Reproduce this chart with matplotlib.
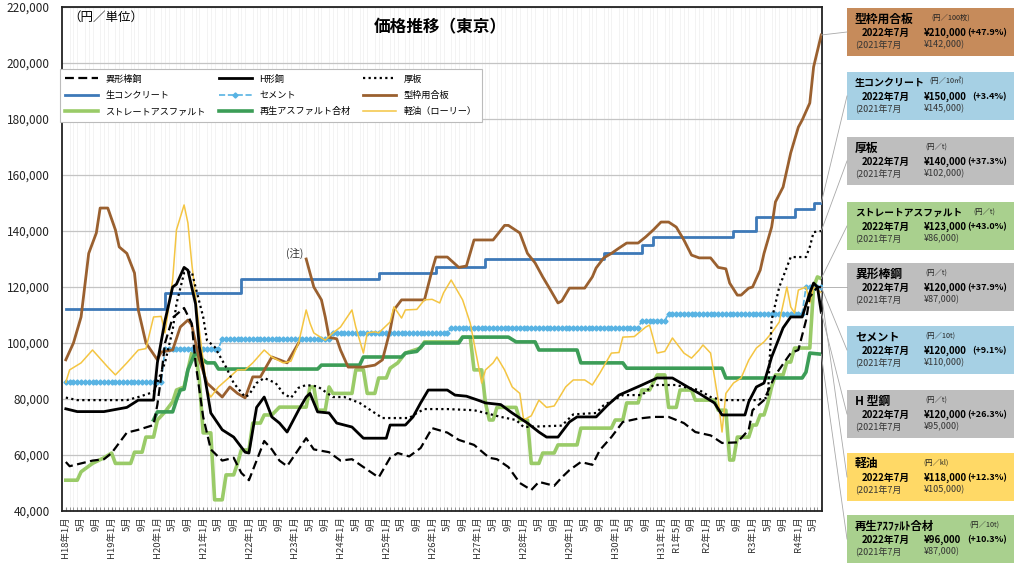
import numpy as np
import matplotlib
matplotlib.use('Agg')
import matplotlib.pyplot as plt
from matplotlib.lines import Line2D
from matplotlib.patches import Rectangle
from matplotlib.ticker import FuncFormatter

plt.rcParams['font.family'] = ['Noto Sans CJK JP', 'DejaVu Sans']

# x = 月番号 (0 = H18年1月, 198 = R4年7月)、値は千円
ikei = [(0, 57.5), (1, 56), (7, 58), (10, 58.5), (12, 60.7), (16, 68), (19, 69), (23, 70.7),
        (24, 78), (25, 88), (26, 100), (28, 109), (31, 112.5), (33, 107), (34, 93), (36, 73.6),
        (38, 62), (41, 58), (44, 59), (46, 53.6), (48, 51), (50, 58), (52, 65), (54, 62),
        (56, 58), (58, 56), (61, 62), (63, 66), (65, 62), (69, 61), (72, 58), (75, 58.5),
        (78, 55.7), (82, 52), (85, 59), (87, 60.7), (90, 59.5), (93, 62.5), (96, 69.6),
        (100, 68), (103, 65.4), (107, 63.6), (111, 59), (113, 58.5), (116, 55.7), (119, 50),
        (122, 47.5), (124, 50.4), (128, 49), (130, 52), (132, 54.6), (135, 57.5), (138, 56.5),
        (140, 61.8), (143, 66.4), (146, 71.8), (150, 73), (154, 73.6), (158, 73.6), (162, 71.4),
        (165, 68.2), (169, 67), (172, 64.3), (176, 64.5), (179, 69), (180, 76), (183, 79.6),
        (185, 85.7), (186, 88.6), (190, 96.4), (192, 97.5), (194, 108), (195, 116.4),
        (197, 120), (198, 120)]

hkou = [(0, 76.5), (3, 75.5), (10, 75.5), (16, 77), (19, 79.6), (23, 79.6), (24, 93), (26, 108),
        (28, 120), (29, 121), (31, 127), (32, 126), (34, 114), (35, 98.6), (37, 83.2), (38, 75),
        (41, 69), (44, 66.4), (47, 61), (48, 60.7), (50, 77), (52, 80.7), (54, 73.6), (56, 71.4),
        (58, 68.2), (61, 76), (63, 80.7), (64, 82), (66, 75.4), (69, 75), (71, 71.4), (75, 70),
        (78, 66), (84, 66), (85, 70.7), (89, 70.7), (91, 73.6), (93, 78.6), (95, 83.2),
        (100, 83.2), (102, 81.4), (105, 81), (108, 79.6), (110, 78.6), (114, 78), (117, 75),
        (121, 71.4), (124, 68.2), (126, 66.4), (129, 66.4), (132, 71.8), (134, 73.6),
        (139, 73.6), (142, 77.8), (145, 81.4), (148, 83.2), (151, 85), (155, 87.5), (159, 87.5),
        (163, 84.3), (166, 82), (170, 78.6), (172, 74.3), (178, 74.3), (179, 79), (181, 84.3),
        (183, 85.7), (185, 95), (188, 105.4), (190, 109.3), (193, 109.3), (195, 117.9),
        (196, 121.4), (197, 120), (198, 111)]

atsuita = [(0, 80.5), (3, 79.6), (16, 79.6), (19, 80.7), (23, 82.5), (26, 93), (28, 104.6),
           (29, 114), (31, 125), (33, 125.5), (34, 120), (36, 109.3), (37, 101), (39, 98.6),
           (42, 91.4), (44, 85.7), (47, 80.7), (48, 81.5), (50, 85.7), (52, 87.5), (55, 85.7),
           (57, 82), (59, 80.4), (61, 84), (63, 85), (66, 84.5), (70, 80.7), (73, 80.7),
           (77, 78.6), (81, 75), (83, 73.2), (90, 73.2), (92, 75), (94, 76.4), (100, 76.4),
           (107, 76), (110, 75), (114, 73.6), (118, 72.5), (120, 70), (130, 70.5), (133, 74.5),
           (139, 75), (141, 77.8), (146, 81.4), (151, 81.4), (154, 85), (160, 85), (162, 84.3),
           (166, 83.2), (169, 80.7), (172, 79.6), (181, 79.6), (184, 80.5), (185, 108.2),
           (187, 120), (190, 130.7), (194, 130.7), (195, 134.3), (196, 139.6), (198, 140)]

# 改定月と価格（階段状）
namacon_m = [0, 26, 46, 82, 97, 110, 141, 151, 154, 175, 181, 191, 196]
namacon_v = [112, 118, 123, 125, 127, 130, 132, 135, 138, 140, 145, 148, 150]
cement_m = [0, 26, 41, 70, 101, 151, 158, 194]
cement_v = [86, 98, 101.5, 103.5, 105.5, 108, 110.5, 120]

kata = [(0, 94), (2, 100), (4, 109.3), (6, 132), (8, 139.3), (9, 148.2), (11, 148.2),
        (13, 140.4), (14, 134.3), (16, 132), (18, 125), (19, 111.8), (21, 100), (24, 94),
        (25, 96.8), (28, 97.5), (30, 105.7), (32, 108.2), (33, 106.5), (35, 94), (37, 85.7),
        (39, 83.2), (41, 80.7), (43, 84.3), (45, 82), (47, 80.4), (49, 87.9), (51, 87.9),
        (54, 95), (56, 94), (58, 92.9), (61, 100), (62, np.nan),
        (63, 130), (65, 120), (67, 115.4), (68, 109.3), (69, 102), (71, 101.5), (72, 97.5),
        (74, 91.4), (78, 91.4), (81, 92.1), (83, 94), (85, 104.6), (86, 111.8), (88, 115.4),
        (94, 115.4), (96, 126), (97, 130.7), (100, 130.7), (103, 127), (105, 127.5),
        (107, 136.8), (112, 136.8), (115, 142), (116, 142), (119, 139.3), (121, 132),
        (123, 128.6), (125, 123.6), (127, 119), (129, 114.3), (130, 115), (132, 119.6),
        (136, 119.6), (138, 123.6), (139, 126.8), (141, 130.4), (143, 132), (145, 133.9),
        (147, 135.7), (150, 135.7), (152, 137.9), (154, 140.4), (156, 143.2), (158, 143.2),
        (160, 141.4), (162, 136.8), (164, 131.4), (166, 130.4), (169, 130.4), (171, 127),
        (173, 126.5), (174, 121.4), (176, 117.1), (177, 117.1), (179, 119.6), (180, 120),
        (182, 126), (183, 132), (185, 141.4), (186, 150.4), (188, 155.7), (190, 167.9),
        (192, 177.1), (193, 179.6), (195, 185.7), (196, 198.6), (198, 210)]

keiyu = [(0, 86), (1, 90.4), (4, 92.9), (7, 97.5), (11, 91.4), (13, 88.6), (16, 92.9),
         (19, 97.5), (21, 98), (23, 109.3), (25, 109.5), (26, 103.6), (28, 122.5), (29, 140.4),
         (31, 149.3), (32, 142.9), (33, 128.6), (35, 104.6), (37, 83.2), (38, 80.7), (40, 84.3),
         (43, 87.9), (45, 90.4), (47, 90.4), (49, 92.9), (52, 97.5), (54, 95), (57, 92.9),
         (59, 93.5), (61, 100), (63, 111.8), (64, 107.1), (65, 103.6), (68, 101), (70, 103.6),
         (72, 105.7), (75, 111.8), (76, 105.7), (78, 96.4), (79, 103.6), (81, 104), (82, 103.6),
         (85, 107.5), (86, 112.9), (88, 108.9), (89, 111.8), (92, 112), (94, 115.4), (96, 115.6),
         (98, 114.3), (99, 117.9), (101, 122.5), (104, 115.4), (106, 107.1), (108, 92.9),
         (109, 85.7), (110, 90.4), (112, 92.9), (113, 95), (115, 90.4), (117, 84.3), (119, 82),
         (120, 72.5), (122, 74), (124, 79.6), (126, 77), (128, 77.5), (130, 82), (131, 84.3),
         (133, 86.8), (136, 86.8), (138, 85), (140, 89.3), (143, 96.4), (145, 96.6),
         (146, 102.1), (149, 102.3), (152, 105.7), (153, 106.4), (155, 96.4), (157, 97),
         (159, 101.8), (162, 96.4), (164, 94.6), (166, 97.5), (167, 99.3), (169, 96.4),
         (171, 79.6), (172, 68.2), (173, 82), (175, 85.7), (177, 87.5), (179, 93.9), (181, 98.2),
         (183, 100.4), (185, 103.6), (187, 107.5), (189, 120), (190, 112.9), (191, 110.7),
         (192, 118.9), (194, 120), (195, 114.3), (196, 120), (198, 118)]

stas = [(0, 51), (3, 51), (4, 54), (7, 57), (10, 59), (12, 60.7), (13, 57), (17, 57), (18, 61),
        (20, 61), (21, 66.4), (23, 66.4), (24, 72.5), (26, 75.4), (28, 79), (29, 83.2),
        (31, 84.3), (32, 90.4), (33, 96.4), (34, 96.4), (35, 86.8), (36, 67.9), (38, 67.9),
        (39, 44), (41, 44), (42, 52.9), (44, 52.9), (45, 57), (46, 61.8), (48, 61.8), (49, 71.4),
        (51, 71.4), (52, 74.3), (54, 74.3), (56, 77.1), (63, 77.1), (64, 84.3), (65, 84.3),
        (66, 76), (68, 76), (69, 84.3), (70, 82), (75, 82), (76, 90.4), (78, 90.4), (79, 82),
        (81, 82), (82, 87.5), (84, 87.5), (85, 91), (87, 92.9), (89, 96.4), (93, 98.2),
        (94, 100.4), (103, 100.4), (104, 102.1), (106, 102.1), (107, 90.4), (109, 90.4),
        (110, 78.6), (111, 72.5), (112, 72.5), (113, 77), (118, 77), (119, 72.5), (121, 72.5),
        (122, 57), (124, 57), (125, 60.7), (128, 60.7), (129, 63.6), (134, 63.6), (135, 69.6),
        (143, 69.6), (144, 72.5), (146, 72.5), (147, 78.6), (150, 78.6), (151, 83.2),
        (153, 83.2), (155, 88.6), (157, 88.6), (158, 77), (160, 77), (161, 83.2), (164, 83.2),
        (165, 79.6), (170, 79.6), (171, 76), (173, 76), (174, 58.2), (175, 58.2), (176, 66.4),
        (179, 66.4), (180, 70.7), (181, 70.7), (182, 74.3), (183, 74.3), (184, 78.6),
        (185, 84.3), (186, 88.6), (188, 88.6), (189, 93.2), (190, 93.2), (191, 98.2),
        (195, 98.2), (196, 120), (197, 123.6), (198, 123)]

saisei = [(23, 72.5), (24, 75.4), (28, 75.4), (29, 79.6), (30, 83.2), (31, 83.5), (32, 90.4),
          (34, 96.8), (35, 95), (37, 92.9), (39, 92.9), (40, 90.7), (66, 90.7), (67, 92.1),
          (77, 92.1), (78, 95), (88, 95), (89, 96.4), (92, 97), (94, 100), (103, 100),
          (104, 102.1), (116, 102.1), (118, 100.4), (123, 100.4), (124, 97.5), (134, 97.5),
          (135, 92.9), (146, 92.9), (147, 91), (172, 91), (173, 87.5), (193, 87.5), (194, 89.6),
          (195, 96.4), (198, 96)]

xtick_labels = ['H18年1月', '5月', '9月', 'H19年1月', '5月', '9月', 'H20年1月', '5月', '9月',
                'H21年1月', '5月', '9月', 'H22年1月', '5月', '9月', 'H23年1月', '5月', '9月',
                'H24年1月', '5月', '9月', 'H25年1月', '5月', '9月', 'H26年1月', '5月', '9月',
                'H27年1月', '5月', '9月', 'H28年1月', '5月', '9月', 'H29年1月', '5月', '9月',
                'H30年1月', '5月', '9月', 'H31年1月', 'R1年5月', '9月', 'R2年1月', '5月', '9月',
                'R3年1月', '5月', '9月', 'R4年1月', '5月']

# 右側の囲み
box_names = ['型枠用合板', '生コンクリート', '厚板', 'ストレートアスファルト', '異形棒鋼',
             'セメント', 'H 型鋼', '軽油', '再生ｱｽﾌｧﾙﾄ合材']
box_units = ['(円／100枚)', '(円／10㎥)', '(円／t)', '(円／t)', '(円／t)', '(円／10t)',
             '(円／t)', '(円／kl)', '(円／10t)']
box_now = [210000, 150000, 140000, 123000, 120000, 120000, 120000, 118000, 96000]
box_prev = [142000, 145000, 102000, 86000, 87000, 110000, 95000, 105000, 87000]
box_pct = ['+47.9%', '+3.4%', '+37.3%', '+43.0%', '+37.9%', '+9.1%', '+26.3%', '+12.3%', '+10.3%']


def xy(pairs):
    a = np.array(pairs, dtype=float)
    return a[:, 0], a[:, 1] * 1000


def hold(months, values, last=198):
    # 改定から次の改定まで同じ価格
    m = np.arange(months[0], last + 1)
    idx = np.searchsorted(months, m, side='right') - 1
    return m, np.array(values)[idx] * 1000


W, H = 1024, 565
fig = plt.figure(figsize=(W / 100, H / 100), dpi=100)
ax = fig.add_axes([62 / W, 1 - 511 / H, 760 / W, 504 / H])

h = {}
m, v = xy(ikei)
h['ikei'], = ax.plot(m, v, color='black', ls=(0, (4, 2)), lw=1.6, label='異形棒鋼', zorder=5)
m, v = xy(hkou)
h['hkou'], = ax.plot(m, v, color='black', lw=2.0, label='H形鋼', zorder=5)
m, v = xy(atsuita)
h['atsuita'], = ax.plot(m, v, color='black', ls=(0, (1, 1.5)), lw=1.6, label='厚板', zorder=5)
m, v = hold(namacon_m, namacon_v)
h['namacon'], = ax.plot(m, v, color='#3D79B8', lw=2.0, drawstyle='steps-post',
                        label='生コンクリート', zorder=3)
m, v = hold(cement_m, cement_v)
h['cement'], = ax.plot(m, v, color='#58B3E3', ls='--', lw=1.2, marker='D', ms=2.6,
                       label='セメント', zorder=3)
m, v = xy(kata)
h['kata'], = ax.plot(m, v, color='#9A602F', lw=2.0, label='型枠用合板', zorder=4)
m, v = xy(stas)
h['stas'], = ax.plot(m, v, color='#9ACB68', lw=2.6, label='ストレートアスファルト', zorder=2)
m, v = xy(saisei)
h['saisei'], = ax.plot(m, v, color='#3C9D57', lw=2.6, label='再生アスファルト合材', zorder=2)
m, v = xy(keiyu)
h['keiyu'], = ax.plot(m, v, color='#F4C542', lw=1.1, label='軽油（ローリー）', zorder=4)

ax.set_xlim(-1, 198.2)
ax.set_ylim(40000, 220000)
ax.set_yticks(np.arange(40000, 220001, 20000))
ax.yaxis.set_major_formatter(FuncFormatter(lambda x, p: f'{int(x):,}'))
ax.set_xticks(np.arange(0, 197, 4))
ax.set_xticklabels(xtick_labels, rotation=90, fontsize=6.8, color='#333333')
ax.set_xticks(np.arange(0, 199), minor=True)
ax.tick_params(axis='y', length=0, pad=9, labelsize=8.5, labelcolor='#222222')
ax.tick_params(axis='x', which='both', direction='in', length=3, color='#888888', pad=4)
ax.grid(axis='y', color='#c4c4c4', lw=0.9)
ax.grid(axis='x', which='minor', color='#eeeeee', lw=0.5)
ax.set_axisbelow(True)
for s in ax.spines.values():
    s.set_color('#222222')
    s.set_linewidth(1.3)

order = ['ikei', 'namacon', 'stas', 'hkou', 'cement', 'saisei', 'atsuita', 'kata', 'keiyu']
leg = ax.legend([h[k] for k in order], [h[k].get_label() for k in order], ncol=3,
                loc='upper left', bbox_to_anchor=(-0.003, 0.777, 0.556, 0.1), mode='expand',
                fontsize=6.6, handlelength=3.6, labelspacing=0.8, borderaxespad=0,
                fancybox=False, framealpha=1, edgecolor='#bbbbbb', borderpad=0.6)
leg.get_frame().set_linewidth(0.8)

fig.text(68 / W, 1 - 17 / H, '（円／単位）', fontsize=9, va='center')
fig.text(440 / W, 1 - 27 / H, '価格推移（東京）', fontsize=12, fontweight='bold',
         ha='center', va='center')
ax.text(60, 132000, '(注)', fontsize=7.5, ha='center', va='center', color='#333333')

# 右側の価格ボックス
box_colors = ['#C68B5B', '#A6D0E4', '#BEBEBE', '#A9D08E', '#BEBEBE', '#A6D0E4',
              '#BEBEBE', '#FFD966', '#A9D08E']
box_tops = [8, 72, 137, 202, 263, 326, 390, 453, 515]
name_size = [8.5, 7.2, 8.5, 7, 8.5, 8, 8.5, 8.5, 8.2]
unit_dx = [84, 82, 78, 126, 78, 78, 78, 76, 122]
ends = [h['kata'], h['namacon'], h['atsuita'], h['stas'], h['ikei'], h['cement'],
        h['hkou'], h['keiyu'], h['saisei']]
x0, bw, bh = 847, 167, 48
for i, name in enumerate(box_names):
    top = box_tops[i]
    fig.patches.append(Rectangle((x0 / W, 1 - (top + bh) / H), bw / W, bh / H,
                                 transform=fig.transFigure, facecolor=box_colors[i],
                                 edgecolor='none', zorder=0))
    fig.text((x0 + 8) / W, 1 - (top + 11) / H, name, fontsize=name_size[i],
             fontweight='bold', va='center')
    fig.text((x0 + unit_dx[i]) / W, 1 - (top + 10) / H, box_units[i], fontsize=5.2,
             va='center', color='#222222')
    fig.text((x0 + 15) / W, 1 - (top + 25) / H, '2022年7月', fontsize=7, fontweight='bold',
             va='center')
    fig.text((x0 + 77) / W, 1 - (top + 25) / H, f'¥{box_now[i]:,}', fontsize=7,
             fontweight='bold', va='center')
    fig.text((x0 + 160) / W, 1 - (top + 25) / H, f'({box_pct[i]})', fontsize=6.5,
             fontweight='bold', va='center', ha='right')
    fig.text((x0 + 8) / W, 1 - (top + 37) / H, '(2021年7月', fontsize=6.5, va='center',
             color='#333333')
    fig.text((x0 + 77) / W, 1 - (top + 37) / H, f'¥{box_prev[i]:,})', fontsize=6.5,
             va='center', color='#333333')
    # 引出線
    ln = ends[i]
    ex, ey = ln.get_xdata()[-1], ln.get_ydata()[-1]
    p = fig.transFigure.inverted().transform(ax.transData.transform((ex, ey)))
    fig.add_artist(Line2D([p[0], x0 / W], [p[1], 1 - (top + bh / 2) / H],
                          transform=fig.transFigure, color='#a8a8a8', lw=0.6))

fig.savefig('out.png', dpi=100)
